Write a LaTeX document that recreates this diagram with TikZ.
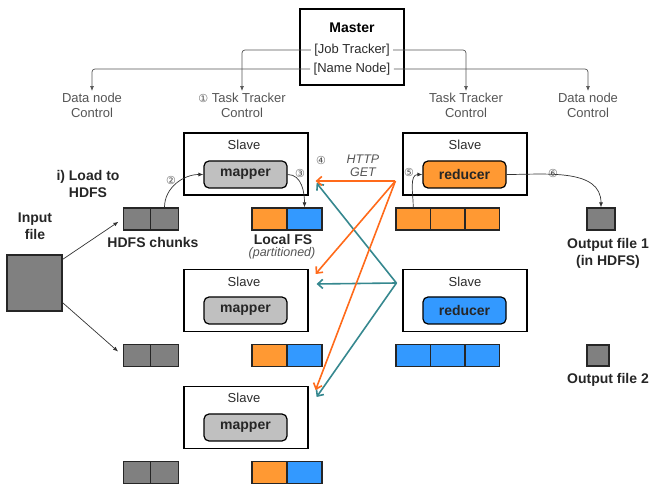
\documentclass[tikz,border=0pt]{standalone}
\usepackage{fontspec}
\setmainfont{Liberation Sans}
\newfontfamily\circfont{DejaVu Sans}
\usetikzlibrary{arrows.meta}

\definecolor{chunkgray}{HTML}{808080}
\definecolor{mapgray}{HTML}{C0C0C0}
\definecolor{partorange}{HTML}{FF9933}
\definecolor{partblue}{HTML}{3399FF}
\definecolor{getorange}{HTML}{FF6A1A}
\definecolor{getteal}{HTML}{36888F}
\definecolor{txtgray}{HTML}{2B2B2B}
\definecolor{ctrlgray}{HTML}{555555}

\tikzset{
  slavebox/.style={draw=black,line width=1.2pt,minimum width=124pt,minimum height=62pt},
  task/.style={draw=black,line width=1.2pt,rounded corners=5pt,minimum width=83pt,minimum height=27pt,
    font=\fontsize{14}{16}\selectfont\bfseries,text=black!85},
  cell/.style={draw=black!85,line width=1.3pt,minimum height=22pt,inner sep=0pt},
  lbl/.style={text=txtgray,font=\fontsize{13}{15}\selectfont,align=center},
  blbl/.style={text=black!85,font=\fontsize{14}{17}\selectfont\bfseries,align=center},
  ctrllbl/.style={text=ctrlgray,font=\fontsize{13}{15}\selectfont,align=center,inner sep=2pt},
  circ/.style={text=ctrlgray,font=\circfont\fontsize{11}{11}\selectfont,inner sep=0pt},
  ctrl/.style={ctrlgray,line width=0.7pt,rounded corners=3pt,-{Latex[length=5pt,width=4pt]}},
  flow/.style={black!80,line width=0.7pt,-{Latex[length=5pt,width=4pt]}},
  get/.style={line width=1.6pt,-{Straight Barb[length=5pt,width=9pt]}},
}

\begin{document}
\begin{tikzpicture}[x=1pt,y=-1pt]
  \useasboundingbox (0,0) rectangle (662,494);

  % master
  \node[draw=black,line width=1.2pt,minimum width=104pt,minimum height=76pt] (master) at (352,47) {};
  \node[blbl,text=black] (mtitle) at (352,28) {Master};
  \node[lbl] (jt) at (352,50) {[Job Tracker]};
  \node[lbl] (nn) at (352,69) {[Name Node]};

  % control labels
  \node[ctrllbl] (dn1) at (92,105.5) {Data node\\Control};
  \node[ctrllbl] (tt1) at (242,105.5) {{\circfont\fontsize{11}{11}\selectfont ①} Task Tracker\\Control};
  \node[ctrllbl] (tt2) at (466,105.5) {Task Tracker\\Control};
  \node[ctrllbl] (dn2) at (588,105.5) {Data node\\Control};

  \draw[ctrl] (jt.west) -| (tt1.north);
  \draw[ctrl] (jt.east) -| (tt2.north);
  \draw[ctrl] (nn.west) -| (dn1.north);
  \draw[ctrl] (nn.east) -| (dn2.north);

  % slaves with mappers
  \node[slavebox] (slave1) at (246,164) {};
  \node[lbl] (sl1) at (244,145) {Slave};
  \node[task,fill=mapgray] (map1) at (245.5,174.5) {mapper};

  \node[slavebox] (slave2) at (246,300.5) {};
  \node[lbl] (sl2) at (244,282) {Slave};
  \node[task,fill=mapgray] (map2) at (245.5,310.5) {mapper};

  \node[slavebox] (slave3) at (246,417.5) {};
  \node[lbl] (sl3) at (244,398) {Slave};
  \node[task,fill=mapgray] (map3) at (245.5,427.5) {mapper};

  % slaves with reducers
  \node[slavebox] (rslave1) at (465,164) {};
  \node[lbl] (rsl1) at (465,145) {Slave};
  \node[task,fill=partorange] (red1) at (464.5,174.5) {reducer};

  \node[slavebox] (rslave2) at (465,300.5) {};
  \node[lbl] (rsl2) at (465,282) {Slave};
  \node[task,fill=partblue] (red2) at (464.5,310.5) {reducer};

  % input file and HDFS chunks
  \node[cell,fill=chunkgray,minimum width=55pt,minimum height=56pt] (inp) at (34.5,283) {};
  \node[blbl] (inplbl) at (35,226) {Input\\file};
  \node[blbl] (load) at (88,184) {i) Load to\\HDFS};

  \node[cell,fill=chunkgray,minimum width=27.5pt] (ca1) at (137,219) {};
  \node[cell,fill=chunkgray,minimum width=27.5pt] (ca2) at (164.5,219) {};
  \node[cell,fill=chunkgray,minimum width=27.5pt] (cb1) at (137,355.5) {};
  \node[cell,fill=chunkgray,minimum width=27.5pt] (cb2) at (164.5,355.5) {};
  \node[cell,fill=chunkgray,minimum width=27.5pt] (cc1) at (137,472.5) {};
  \node[cell,fill=chunkgray,minimum width=27.5pt] (cc2) at (164.5,472.5) {};
  \node[blbl] (chunks) at (153,242) {HDFS chunks};

  % local FS (partitioned)
  \node[cell,fill=partorange,minimum width=35pt] (lfa1) at (269.5,219) {};
  \node[cell,fill=partblue,minimum width=35pt] (lfa2) at (304.5,219) {};
  \node[cell,fill=partorange,minimum width=35pt] (lfb1) at (269.5,355.5) {};
  \node[cell,fill=partblue,minimum width=35pt] (lfb2) at (304.5,355.5) {};
  \node[cell,fill=partorange,minimum width=35pt] (lfc1) at (269.5,472.5) {};
  \node[cell,fill=partblue,minimum width=35pt] (lfc2) at (304.5,472.5) {};
  \node[blbl] (localfs) at (283,239) {Local FS};
  \node[lbl,text=ctrlgray,font=\fontsize{12.5}{15}\selectfont\itshape] (part) at (282,253) {(partitioned)};

  % reducer inputs
  \node[cell,fill=partorange,minimum width=34.5pt] (rba1) at (413.25,219) {};
  \node[cell,fill=partorange,minimum width=34.5pt] (rba2) at (447.75,219) {};
  \node[cell,fill=partorange,minimum width=34.5pt] (rba3) at (482.25,219) {};
  \node[cell,fill=partblue,minimum width=34.5pt] (rbb1) at (413.25,355.5) {};
  \node[cell,fill=partblue,minimum width=34.5pt] (rbb2) at (447.75,355.5) {};
  \node[cell,fill=partblue,minimum width=34.5pt] (rbb3) at (482.25,355.5) {};

  % output files
  \node[cell,fill=chunkgray,minimum width=28pt] (out1) at (601,219) {};
  \node[blbl] (out1lbl) at (608,253) {Output file 1\\(in HDFS)};
  \node[cell,fill=chunkgray,minimum width=22pt,minimum height=21pt] (out2) at (598,355.5) {};
  \node[blbl] (out2lbl) at (608,380) {Output file 2};

  % data flow
  \draw[flow,shorten >=5pt] (inp.40) -- (ca1.west);
  \draw[flow,shorten >=6pt] (inp.-35) -- (cb1.west);
  \draw[flow] (ca2.north) to[out=90,in=180] (map1.west);
  \draw[flow] (map1.east) to[out=0,in=90] (lfa2.north);
  \draw[flow] (rba1.north) to[out=90,in=180] (red1.west);
  \draw[flow] (red1.east) to[out=0,in=90] (out1.north);

  \node[circ] (n2) at (171,180) {②};
  \node[circ] (n3) at (300,173) {③};
  \node[circ] (n4) at (321,160) {④};
  \node[circ] (n5) at (409,172) {⑤};
  \node[circ] (n6) at (553,173) {⑥};

  % shuffle (HTTP GET)
  \node[ctrllbl,font=\fontsize{12.5}{13}\selectfont\itshape] (http) at (363,166) {HTTP\\GET};
  \coordinate (og) at ([shift={(-7,17)}]rslave1.west);
  \coordinate (tg) at ([shift={(-6,-17.5)}]rslave2.west);

  \draw[get,getteal] (tg) -- ([shift={(8,19)}]slave1.east);
  \draw[get,getteal] (tg) -- ([shift={(8,-16.5)}]slave2.east);
  \draw[get,getteal] (tg) -- ([shift={(8,-20.5)}]slave3.east);
  \draw[get,getorange] (og) -- ([shift={(7,17)}]slave1.east);
  \draw[get,getorange] (og) -- ([shift={(7,-26.5)}]slave2.east);
  \draw[get,getorange] (og) -- ([shift={(7,-27.5)}]slave3.east);

\end{tikzpicture}
\end{document}
